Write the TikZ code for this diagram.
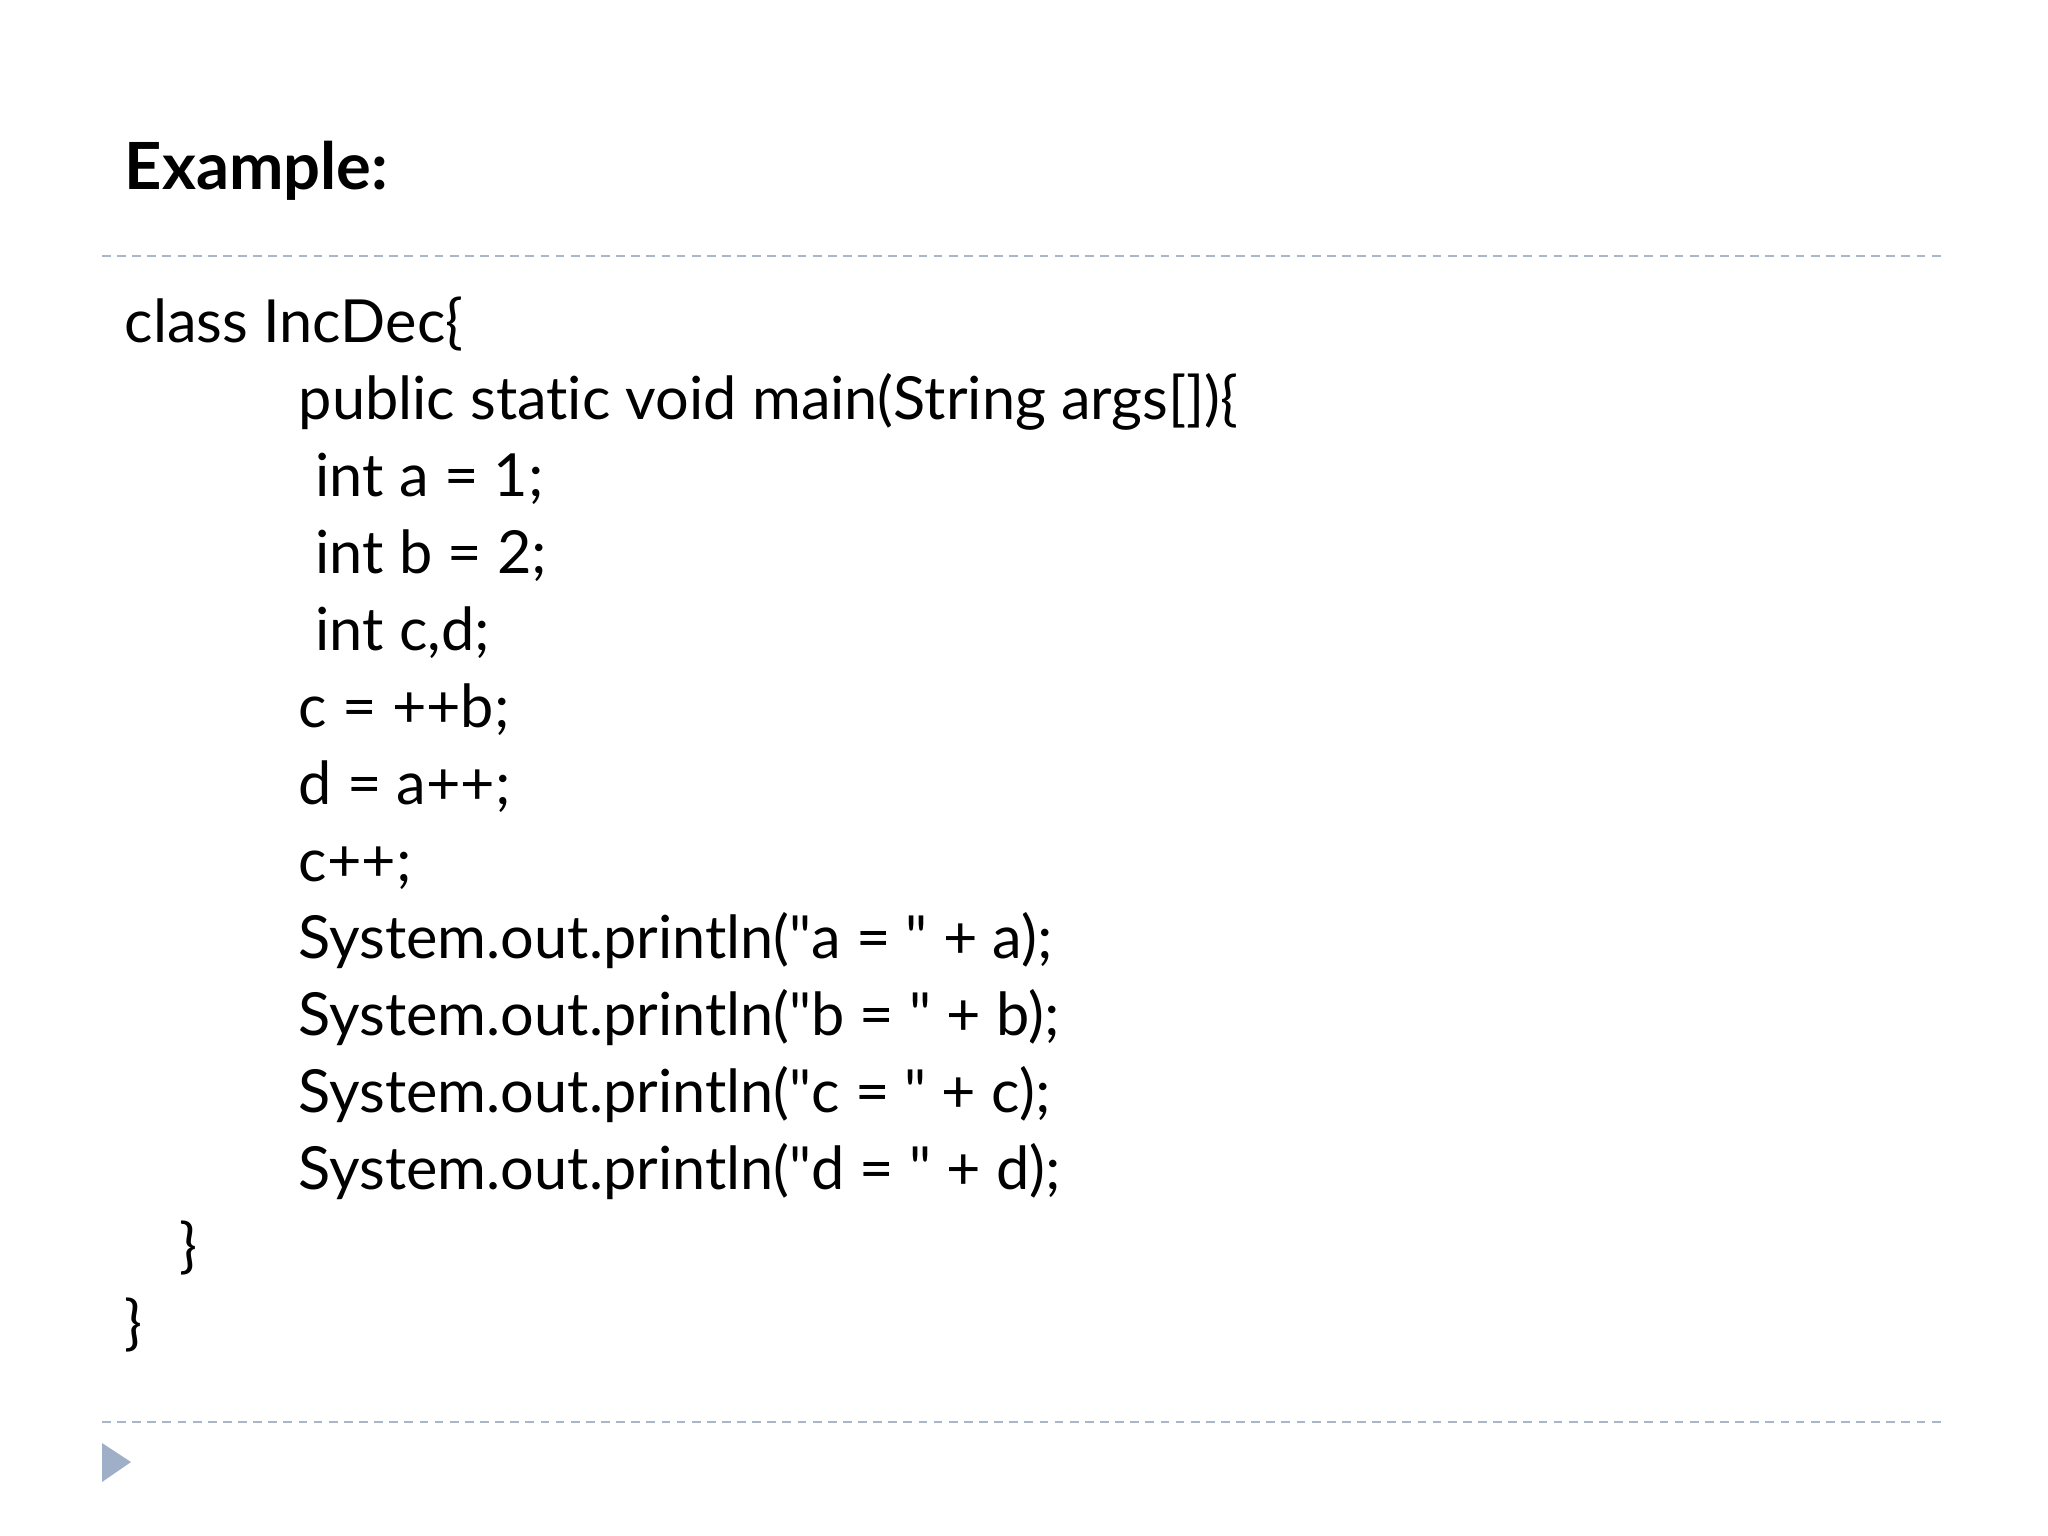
\documentclass[tikz,border=0pt]{standalone}
\usepackage{fontspec}
\setmainfont{Lato}[Ligatures={NoCommon}]
\definecolor{dashc}{HTML}{A9B6C8}
\definecolor{tric}{HTML}{9FAFC8}
\newcommand{\dq}{\textquotedbl}
\begin{document}
\begin{tikzpicture}[x=0.01cm,y=-0.01cm,
 code/.style={anchor=base west,inner sep=0pt,font=\fontsize{16.9}{20}\selectfont},
 sep/.style={draw=dashc,dash pattern=on 2.5pt off 1.8pt,line width=0.6pt}]
\useasboundingbox (0,0) rectangle (2048,1536);
\node[code,font=\fontsize{18.5}{22}\selectfont\bfseries] (title) at (124,189) {Example:};
\draw[sep] (102,256) -- (1946,256);
\draw[sep] (102,1422) -- (1946,1422);
\fill[tric] (102,1443) -- (131,1462) -- (102,1482) -- cycle;
\foreach \i/\x/\t in {0/124/{class IncDec\{},1/298/{public static void main(String args[])\{},2/315/{int a = 1;},3/315/{int b = 2;},4/315/{int c,d;},5/298/{c = ++b;},6/298/{d = a++;},7/298/{c++;},8/298/{System.out.println(\dq a = \dq\ + a);},9/298/{System.out.println(\dq b = \dq\ + b);},10/298/{System.out.println(\dq c = \dq\ + c);},11/298/{System.out.println(\dq d = \dq\ + d);},12/179/{\}},13/124/{\}}}
 \node[code] (l\i) at (\x,342+77*\i) {\t};
\end{tikzpicture}
\end{document}
